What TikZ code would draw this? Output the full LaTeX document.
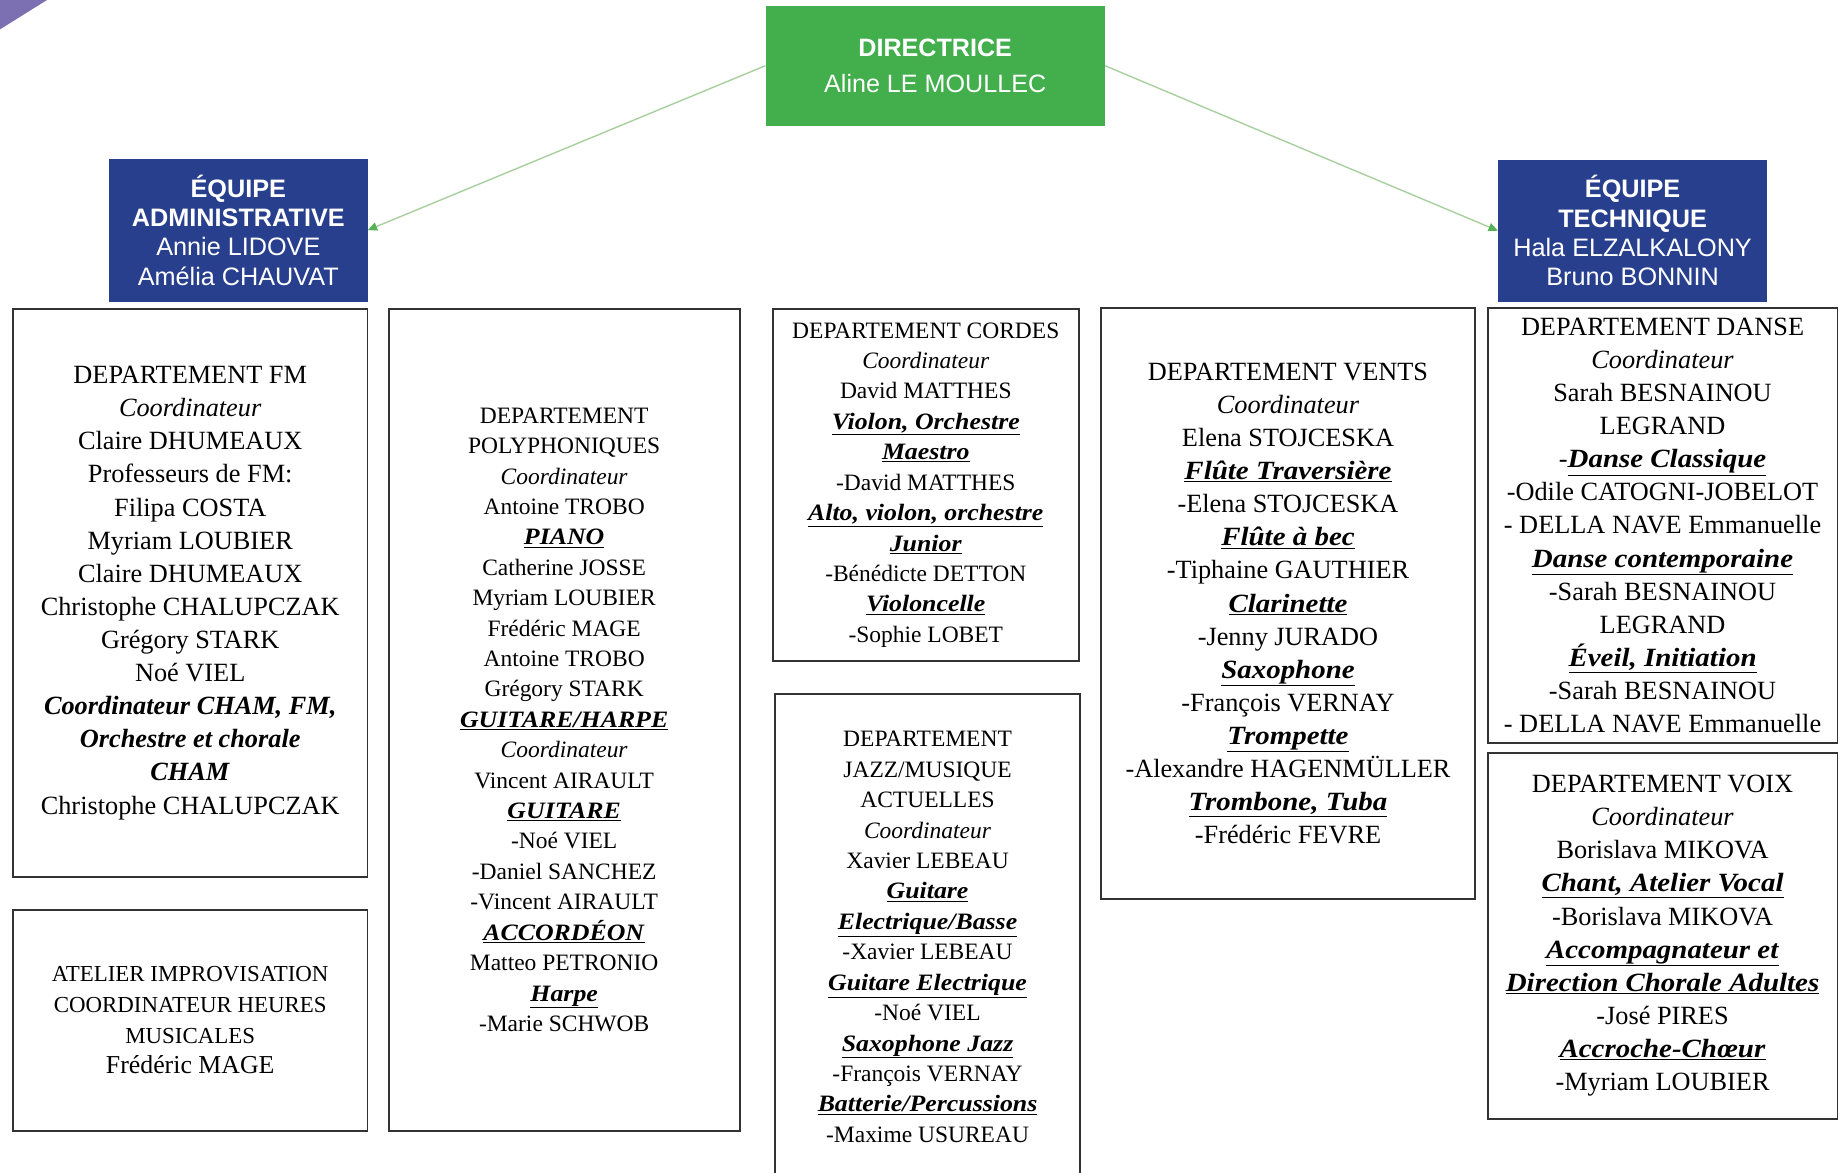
\documentclass[tikz,border=0pt]{standalone}
\usepackage{fontspec}
\setmainfont{Liberation Serif}
\newfontfamily\headfont{Liberation Sans}
\usetikzlibrary{arrows.meta}
\definecolor{dir-green}{RGB}{66,174,76}
\definecolor{team-blue}{RGB}{39,63,141}
\definecolor{corner-purple}{RGB}{125,112,178}
\definecolor{link-green}{RGB}{168,208,158}
\definecolor{tip-green}{RGB}{86,178,84}
\newcommand{\instr}[1]{\underline{\scalebox{1.1}[1]{\textbf{\textit{#1}}}}}
\tikzset{
  head/.style={fill=#1, text=white, align=center, inner sep=0pt, font=\headfont\fontsize{21.5}{25}\selectfont},
  dept/.style={draw=black!80, line width=1.6pt, align=center, inner sep=0pt, font=\fontsize{22.4}{28.2}\selectfont},
  deptsmall/.style={dept, font=\fontsize{20}{25.9}\selectfont},
  link/.style={draw=link-green, line width=1.2pt, -{Triangle[length=8pt,width=7pt,color=tip-green]}}
}

\begin{document}
\begin{tikzpicture}[x=1pt,y=-1pt]
\clip (0,0) rectangle (1568,999);
\fill[corner-purple] (0,0) -- (40,0) -- (0,25) -- cycle;

\node[head=dir-green, minimum width=289pt, minimum height=102pt, font=\headfont\fontsize{21.4}{31}\selectfont] (dir) at (796.5,56) {\textbf{DIRECTRICE}\\Aline LE MOULLEC};
\node[head=team-blue, minimum width=220pt, minimum height=122pt] (adm) at (203,196) {\textbf{ÉQUIPE}\\\textbf{ADMINISTRATIVE}\\Annie LIDOVE\\Amélia CHAUVAT};
\node[head=team-blue, minimum width=229pt, minimum height=121pt] (tech) at (1390.5,196.5) {\textbf{ÉQUIPE}\\\textbf{TECHNIQUE}\\Hala ELZALKALONY\\Bruno BONNIN};

\draw[link] (dir.west) -- (adm.east);
\draw[link] (dir.east) -- (tech.west);

\node[dept, minimum width=302pt, minimum height=484pt] (fm) at (162,505) {DEPARTEMENT FM\\\textit{Coordinateur}\\Claire DHUMEAUX\\Professeurs de FM:\\Filipa COSTA\\Myriam LOUBIER\\Claire DHUMEAUX\\Christophe CHALUPCZAK\\Grégory STARK\\Noé VIEL\\\textbf{\textit{Coordinateur CHAM, FM,}}\\\textbf{\textit{Orchestre et chorale}}\\\textbf{\textit{CHAM}}\\Christophe CHALUPCZAK};
\node[dept, minimum width=302pt, minimum height=188pt, font=\fontsize{19.5}{26}\selectfont] (atelier) at (162,869) {ATELIER IMPROVISATION\\COORDINATEUR HEURES\\MUSICALES\\{\fontsize{22}{26}\selectfont Frédéric MAGE}};
\node[deptsmall, minimum width=299pt, minimum height=700pt] (poly) at (480.5,613) {DEPARTEMENT\\POLYPHONIQUES\\\textit{Coordinateur}\\Antoine TROBO\\\instr{PIANO}\\Catherine JOSSE\\Myriam LOUBIER\\Frédéric MAGE\\Antoine TROBO\\Grégory STARK\\\instr{GUITARE/HARPE}\\\textit{Coordinateur}\\Vincent AIRAULT\\\instr{GUITARE}\\-Noé VIEL\\-Daniel SANCHEZ\\-Vincent AIRAULT\\\instr{ACCORDÉON}\\Matteo PETRONIO\\\instr{Harpe}\\-Marie SCHWOB};
\node[deptsmall, minimum width=261pt, minimum height=300pt] (cordes) at (788.5,413) {DEPARTEMENT CORDES\\\textit{Coordinateur}\\David MATTHES\\\instr{Violon, Orchestre}\\\instr{Maestro}\\-David MATTHES\\\instr{Alto, violon, orchestre}\\\instr{Junior}\\-Bénédicte DETTON\\\instr{Violoncelle}\\-Sophie LOBET};
\node[deptsmall, minimum width=260pt, minimum height=414pt] (jazz) at (790,798) {DEPARTEMENT\\JAZZ/MUSIQUE\\ACTUELLES\\\textit{Coordinateur}\\Xavier LEBEAU\\\instr{Guitare}\\\instr{Electrique/Basse}\\-Xavier LEBEAU\\\instr{Guitare Electrique}\\-Noé VIEL\\\instr{Saxophone Jazz}\\-François VERNAY\\\instr{Batterie/Percussions}\\-Maxime USUREAU};
\node[dept, minimum width=318pt, minimum height=504pt] (vents) at (1097,514) {DEPARTEMENT VENTS\\\textit{Coordinateur}\\Elena STOJCESKA\\\instr{Flûte Traversière}\\-Elena STOJCESKA\\\instr{Flûte à bec}\\-Tiphaine GAUTHIER\\\instr{Clarinette}\\-Jenny JURADO\\\instr{Saxophone}\\-François VERNAY\\\instr{Trompette}\\-Alexandre HAGENMÜLLER\\\instr{Trombone, Tuba}\\-Frédéric FEVRE};
\node[dept, minimum width=298pt, minimum height=371pt] (danse) at (1416,447.5) {DEPARTEMENT DANSE\\\textit{Coordinateur}\\Sarah BESNAINOU\\LEGRAND\\-\instr{Danse Classique}\\-Odile CATOGNI-JOBELOT\\- DELLA NAVE Emmanuelle\\\instr{Danse contemporaine}\\-Sarah BESNAINOU\\LEGRAND\\\instr{Éveil, Initiation}\\-Sarah BESNAINOU\\- DELLA NAVE Emmanuelle};
\node[dept, minimum width=298pt, minimum height=312pt] (voix) at (1416,797) {DEPARTEMENT VOIX\\\textit{Coordinateur}\\Borislava MIKOVA\\\instr{Chant, Atelier Vocal}\\-Borislava MIKOVA\\\instr{Accompagnateur et}\\\instr{Direction Chorale Adultes}\\-José PIRES\\\instr{Accroche-Chœur}\\-Myriam LOUBIER};
\end{tikzpicture}
\end{document}
